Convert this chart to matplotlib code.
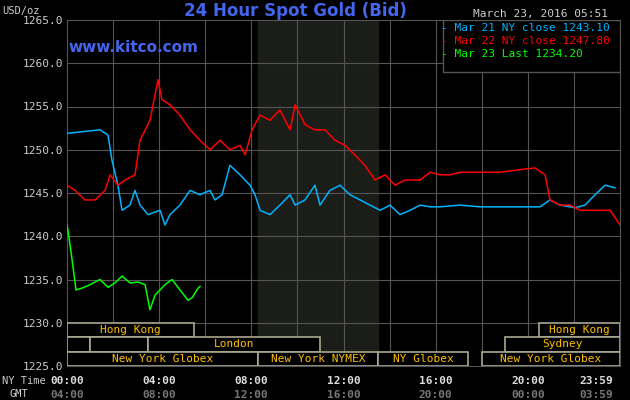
import matplotlib
matplotlib.use("Agg")
import matplotlib.pyplot as plt
from matplotlib.patches import Rectangle

blue_t = [0,1.43,1.78,1.95,2.21,2.39,2.73,2.95,3.17,3.52,3.82,4.04,4.25,4.47,4.9,5.34,5.77,6.21,6.42,6.73,7.07,7.51,7.94,8.16,8.38,8.81,9.24,9.68,9.9,10.33,10.76,10.98,11.41,11.85,12.28,12.72,13.15,13.59,14.02,14.45,14.89,15.32,15.76,16.19,17.06,17.93,18.79,19.66,20.53,20.96,21.4,22.05,22.48,22.92,23.35,23.78]
blue_p = [1251.9,1252.3,1251.7,1248.8,1245.9,1243.0,1243.6,1245.3,1243.6,1242.5,1242.8,1243.0,1241.3,1242.5,1243.6,1245.3,1244.8,1245.3,1244.2,1244.8,1248.2,1247.1,1245.9,1244.8,1243.0,1242.5,1243.6,1244.8,1243.6,1244.2,1245.9,1243.6,1245.3,1245.9,1244.8,1244.2,1243.6,1243.0,1243.6,1242.5,1243.0,1243.6,1243.4,1243.4,1243.6,1243.4,1243.4,1243.4,1243.4,1244.2,1243.6,1243.3,1243.6,1244.8,1245.9,1245.6]
red_t = [0,0.35,0.78,1.22,1.65,1.87,2.21,2.52,2.95,3.17,3.6,3.95,4.12,4.47,4.9,5.34,5.77,6.21,6.64,7.07,7.51,7.73,8.03,8.38,8.81,9.24,9.68,9.9,10.33,10.76,11.2,11.63,12.07,12.5,12.93,13.37,13.8,14.24,14.67,15.32,15.76,16.19,16.62,17.06,17.93,18.79,19.66,20.31,20.75,20.96,21.4,21.83,22.27,22.92,23.57,24.0]
red_p = [1245.9,1245.3,1244.2,1244.2,1245.3,1247.1,1245.9,1246.5,1247.1,1251.1,1253.4,1258.1,1255.8,1255.2,1254.0,1252.3,1251.1,1250.0,1251.1,1250.0,1250.5,1249.4,1252.3,1254.0,1253.4,1254.6,1252.3,1255.2,1252.9,1252.3,1252.3,1251.1,1250.5,1249.4,1248.2,1246.5,1247.1,1245.9,1246.5,1246.5,1247.4,1247.1,1247.1,1247.4,1247.4,1247.4,1247.7,1247.9,1247.1,1244.2,1243.6,1243.6,1243.0,1243.0,1243.0,1241.3]
green_t = [0,0.04,0.22,0.39,0.65,1.0,1.43,1.78,2.08,2.39,2.73,3.08,3.39,3.6,3.82,4.04,4.25,4.56,4.9,5.25,5.43,5.69,5.77]
green_p = [1241.3,1240.7,1237.3,1233.8,1234.0,1234.4,1235.0,1234.1,1234.6,1235.4,1234.6,1234.7,1234.4,1231.5,1233.2,1233.8,1234.4,1235.0,1233.8,1232.6,1232.9,1234.0,1234.2]

legend_labels = ["Mar 21 NY close 1243.10", "Mar 22 NY close 1247.80", "Mar 23 Last 1234.20"]
ny_ticks = ["00:00", "04:00", "08:00", "12:00", "16:00", "20:00", "23:59"]
gmt_ticks = ["04:00", "08:00", "12:00", "16:00", "20:00", "00:00", "03:59"]
tick_pos = [0, 4, 8, 12, 16, 20, 24]
sessions = [(0, 0, 5.5, "Hong Kong"), (0, 20.5, 24, "Hong Kong"),
            (1, 0, 1.0, ""), (1, 1.0, 3.5, ""), (1, 3.5, 11.0, "London"), (1, 19.0, 24, "Sydney"),
            (2, 0, 8.3, "New York Globex"), (2, 8.3, 13.5, "New York NYMEX"),
            (2, 13.5, 17.4, "NY Globex"), (2, 18.0, 24, "New York Globex")]

mono = "DejaVu Sans Mono"
fig = plt.figure(figsize=(6.3, 4.0), dpi=100, facecolor="black")
ax = fig.add_axes([67/630, 34/400, 553/630, 346/400], facecolor="black")
ax.set_xlim(0, 24)
ax.set_ylim(1225, 1265)
ax.add_patch(Rectangle((8.3, 1225), 5.2, 40, color="#1a1d18", zorder=0))
for x in range(2, 24, 2):
    ax.axvline(x, color="#555555", lw=0.8, zorder=1)
for y in range(1230, 1265, 5):
    ax.axhline(y, color="#555555", lw=0.8, zorder=1)
for s in ax.spines.values():
    s.set_color("#555555")

rowh = 5/3
for row, a, b, lab in sessions:
    y0 = 1230 - (row+1)*rowh
    ax.add_patch(Rectangle((a, y0), b-a, rowh, fill=True, fc="black", ec="#aaa890", lw=1.2, zorder=3))
    if lab:
        ax.text((a+b)/2, y0+rowh/2, lab, color="#ffc000", fontsize=8, family=mono, ha="center", va="center", zorder=4)

ax.plot(blue_t, blue_p, color="#00b4ff", lw=1.1, zorder=5)
ax.plot(red_t, red_p, color="#ff0000", lw=1.1, zorder=5)
ax.plot(green_t, green_p, color="#00ff00", lw=1.1, zorder=5)

ax.set_yticks(range(1225, 1266, 5))
ax.set_yticklabels([f"{v}.0" for v in range(1225, 1266, 5)], family=mono, fontsize=8, color="#cccccc")
ax.tick_params(axis="y", length=0, pad=3)
ax.set_xticks([])
for i, (x, lab, lab2) in enumerate(zip(tick_pos, ny_ticks, gmt_ticks)):
    ha = "right" if i == len(tick_pos) - 1 else "center"
    xx = x - 0.3 if ha == "right" else x
    ax.text(xx, -0.028, lab, transform=ax.get_xaxis_transform(), color="#dddddd", family=mono,
            fontsize=8, ha=ha, va="top", fontweight="bold")
    ax.text(xx, -0.068, lab2, transform=ax.get_xaxis_transform(), color="#777777", family=mono,
            fontsize=8, ha=ha, va="top", fontweight="bold")
fig.text(2/630, 1-381/400, "NY Time", color="#cccccc", family=mono, fontsize=7.5, va="center")
fig.text(10/630, 1-394/400, "GMT", color="#cccccc", family=mono, fontsize=7.5, va="center")
fig.text(2/630, 1-11/400, "USD/oz", color="#cccccc", family=mono, fontsize=7.5, va="center")
fig.text(295/630, 1-11/400, "24 Hour Spot Gold (Bid)", color="#4466ee", fontsize=12, ha="center", va="center", fontweight="bold")
fig.text(68/630, 1-48/400, "www.kitco.com", color="#4466ee", fontsize=11, ha="left", va="center", fontweight="bold")
fig.text(608/630, 1-14/400, "March 23, 2016 05:51", color="#cccccc", family=mono, fontsize=8, ha="right", va="center")

ax.add_patch(Rectangle((16.3, 1259.0), 7.7, 6.0, fc="black", ec="#555555", lw=1, zorder=6))
for i, (lab, c) in enumerate(zip(legend_labels, ["#00b4ff", "#ff0000", "#00ff00"])):
    fig.text(441/630, 1-(28+13*i)/400, "- " + lab, color=c, family=mono, fontsize=8, va="center", zorder=7)

fig.savefig("out.png", dpi=100, facecolor="black")
